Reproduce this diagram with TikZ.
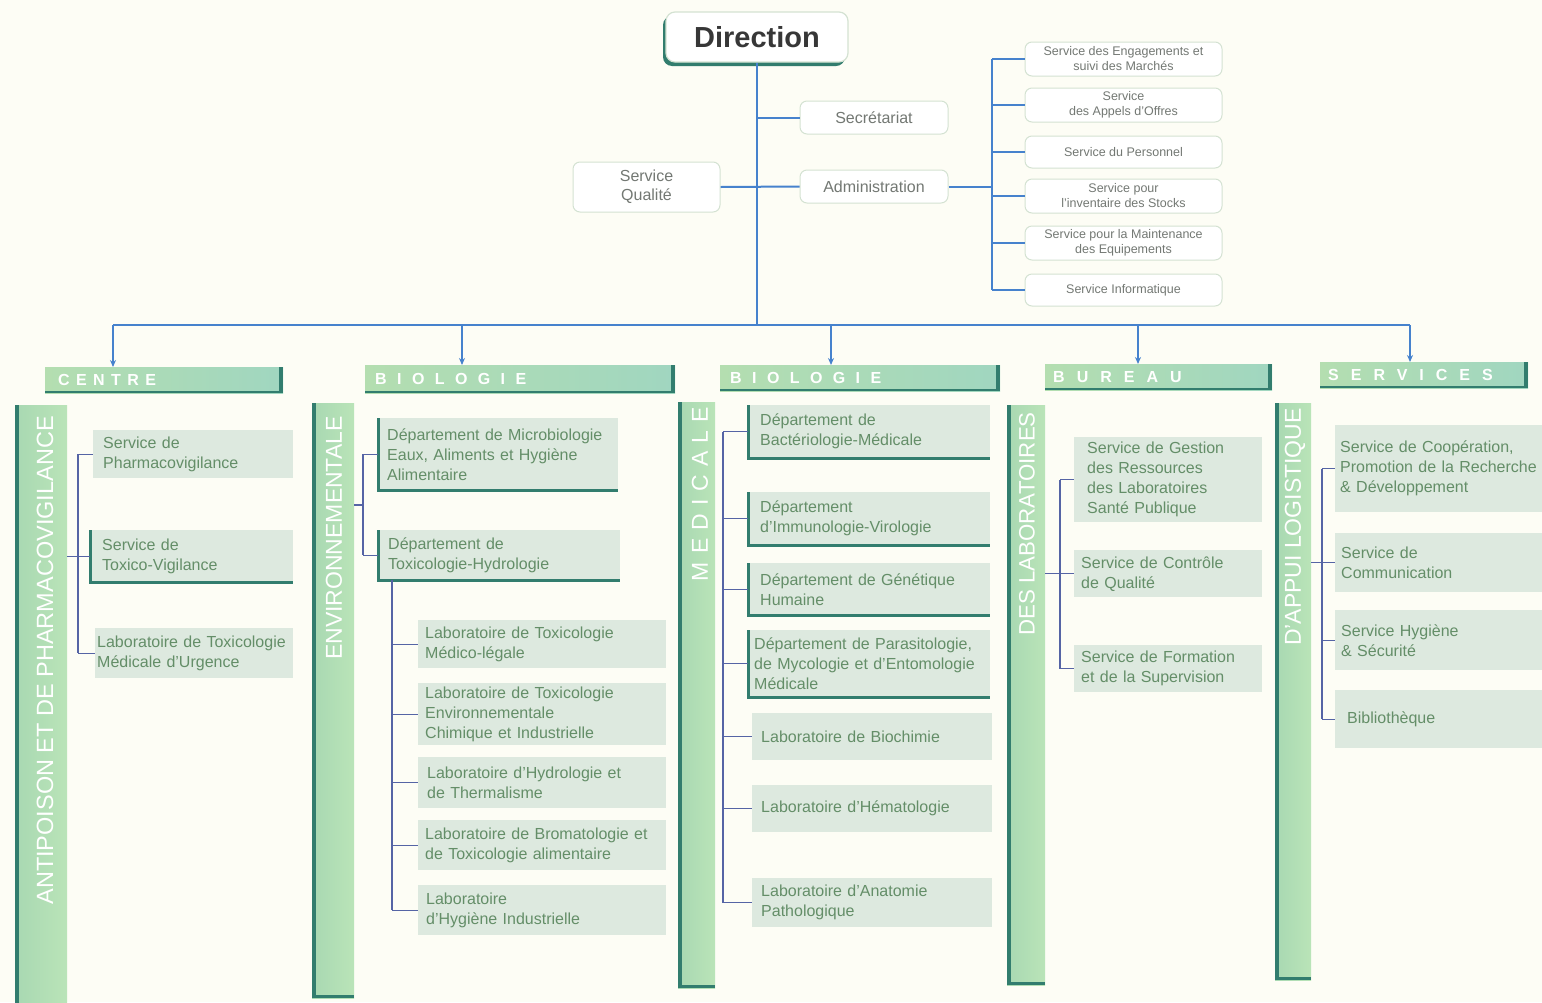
\documentclass[tikz,border=0pt]{standalone}
\usepackage{fontspec}
\setmainfont{Liberation Sans}
\usetikzlibrary{shadows,arrows.meta}
\definecolor{bgc}{RGB}{253,253,245}
\definecolor{dteal}{RGB}{50,125,110}
\definecolor{boxfill}{RGB}{221,233,223}
\definecolor{txtg}{RGB}{100,142,104}
\definecolor{graytxt}{RGB}{115,120,115}
\definecolor{dirtxt}{RGB}{55,55,55}
\definecolor{blueline}{RGB}{70,130,205}
\definecolor{brline}{RGB}{85,100,165}
\definecolor{barA}{RGB}{168,216,178}
\definecolor{barB}{RGB}{186,228,184}
\definecolor{hdrA}{RGB}{180,222,176}
\definecolor{hdrB}{RGB}{160,214,192}
\definecolor{wborder}{RGB}{212,226,210}
% style, name, x, y, w, h, xsep, text
\newcommand\mkbox[8]{\pgfmathsetmacro\tw{#5-2*#7}\node[#1,inner xsep=#7pt,minimum width=#5pt,minimum height=#6pt,text width=\tw pt] (#2) at (#3,#4) {#8};}
\newcommand\dedge[1]{\draw[dteal,line width=3pt] (#1.north west) -- (#1.south west) -- (#1.south east);}
\newcommand\hedge[1]{\draw[dteal,line width=2pt] ([yshift=1pt]#1.south west) -- ([yshift=1pt]#1.south east); \fill[dteal] ([xshift=-4pt]#1.north east) rectangle (#1.south east);}
\newcommand\vedge[1]{\fill[dteal] (#1.north west) rectangle ([xshift=4pt]#1.south west); \draw[dteal,line width=3pt] ([yshift=1.5pt]#1.south west) -- ([yshift=1.5pt]#1.south east);}
\begin{document}
\begin{tikzpicture}[x=1pt,y=-1pt,
  lbox/.style={anchor=north west,fill=boxfill,inner ysep=2pt,align=left,text=txtg,font=\fontsize{16}{20}\selectfont},
  wbox/.style={rounded corners=7pt,fill=white,draw=wborder,line width=1pt,text=graytxt,font=\fontsize{16}{19}\selectfont,align=center,inner sep=2pt},
  sbox/.style={wbox,font=\fontsize{12.5}{15}\selectfont,minimum width=197pt},
  dirbox/.style={rounded corners=9pt,fill=white,draw=wborder,line width=1.2pt,minimum width=182pt,minimum height=50pt,font=\fontsize{29}{30}\selectfont\bfseries,text=dirtxt,drop shadow={shadow xshift=-3pt,shadow yshift=-4pt,fill=dteal,opacity=1}},
  hdr/.style={anchor=north west,left color=hdrA,right color=hdrB,inner sep=0pt},
  hdrtxt/.style={anchor=west,text=white,font=\fontsize{16}{16}\selectfont\bfseries,inner sep=0pt},
  vbar/.style={anchor=north west,left color=barA,right color=barB,inner sep=0pt},
  vtxt/.style={rotate=90,anchor=east,text=white,font=\fontsize{23}{23}\selectfont,inner sep=0pt},
  mainline/.style={blueline,line width=2pt},
  brk/.style={brline,line width=1.3pt},
  arr/.style={mainline,-{Stealth[length=7pt,width=6pt]}}
]
\fill[bgc] (0,0) rectangle (1542,1002);
\useasboundingbox (0,0) rectangle (1542,1002);

% ---------- top part ----------
\node[dirbox] (dir) at (757,37) {Direction};
\node[wbox,minimum width=148pt,minimum height=33pt] (sec) at (874,117.5) {Secrétariat};
\node[wbox,minimum width=148pt,minimum height=33pt] (adm) at (874,186.5) {Administration};
\node[wbox,minimum width=147pt,minimum height=50pt] (qual) at (646.5,187) {Service\\Qualité};
\node[sbox,minimum height=34pt] (s1) at (1123.5,59) {Service des Engagements et\\suivi des Marchés};
\node[sbox,minimum height=34pt] (s2) at (1123.5,105) {Service\\des Appels d'Offres};
\node[sbox,minimum height=32pt] (s3) at (1123.5,152) {Service du Personnel};
\node[sbox,minimum height=34pt] (s4) at (1123.5,196) {Service pour\\l'inventaire des Stocks};
\node[sbox,minimum height=34pt] (s5) at (1123.5,243) {Service pour la Maintenance\\des Equipements};
\node[sbox,minimum height=32pt] (s6) at (1123.5,290) {Service Informatique};

\coordinate (bus) at (757,325);
\coordinate (ab) at (992,186.5);
\draw[mainline] (dir.south) -- (bus);
\draw[mainline] (bus |- sec.west) -- (sec.west);
\draw[mainline] (qual.east) -- (adm.west);
\draw[mainline] (adm.east) -- (ab);
\draw[mainline] (ab |- s1.west) -- (ab |- s6.west);
\foreach \s in {s1,s2,s3,s4,s5,s6} {\draw[mainline] (ab |- \s.west) -- (\s.west);}

% ---------- headers ----------
\node[hdr,minimum width=238pt,minimum height=26pt] (h1) at (45,367) {};
\node[hdr,minimum width=310pt,minimum height=28pt] (h2) at (365,365) {};
\node[hdr,minimum width=280pt,minimum height=26pt] (h3) at (720,365) {};
\node[hdr,minimum width=227pt,minimum height=26pt] (h4) at (1045,364) {};
\node[hdr,minimum width=208pt,minimum height=26pt] (h5) at (1320,362) {};
\hedge{h1}\hedge{h2}\hedge{h3}\hedge{h4}\hedge{h5}
\node[hdrtxt] (h1t) at ([xshift=13pt]h1.west) {\addfontfeature{LetterSpace=40}CENTRE};
\node[hdrtxt] (h2t) at ([xshift=10pt]h2.west) {\addfontfeature{LetterSpace=65}BIOLOGIE};
\node[hdrtxt] (h3t) at ([xshift=10pt]h3.west) {\addfontfeature{LetterSpace=65}BIOLOGIE};
\node[hdrtxt] (h4t) at ([xshift=8pt]h4.west) {\addfontfeature{LetterSpace=75}BUREAU};
\node[hdrtxt] (h5t) at ([xshift=8pt]h5.west) {\addfontfeature{LetterSpace=75}SERVICES};

\coordinate (b1) at (113,325);
\coordinate (b2) at (462,325);
\coordinate (b3) at (831,325);
\coordinate (b4) at (1138,325);
\coordinate (b5) at (1410,325);
\draw[mainline] (b1) -- (b5);
\draw[arr] (b1) -- (b1 |- h1.north);
\draw[arr] (b2) -- (b2 |- h2.north);
\draw[arr] (b3) -- (b3 |- h3.north);
\draw[arr] (b4) -- (b4 |- h4.north);
\draw[arr] (b5) -- (b5 |- h5.north);

% ---------- vertical bars ----------
\node[vbar,minimum width=52pt,minimum height=610pt] (v1) at (15,405) {};
\node[vbar,minimum width=42pt,minimum height=595pt] (v2) at (312,403) {};
\node[vbar,minimum width=37pt,minimum height=586pt] (v3) at (678,402) {};
\node[vbar,minimum width=38pt,minimum height=580pt] (v4) at (1007,405) {};
\node[vbar,minimum width=36pt,minimum height=577pt] (v5) at (1275,403) {};
\vedge{v1}\vedge{v2}\vedge{v3}\vedge{v4}\vedge{v5}
\node[vtxt,font=\fontsize{23.5}{23.5}\selectfont] (v1t) at (45,416) {ANTIPOISON ET DE PHARMACOVIGILANCE};
\node[vtxt] (v2t) at (334,416) {ENVIRONNEMENTALE};
\node[vtxt] (v3t) at (700,407) {\addfontfeature{LetterSpace=35}MEDICALE};
\node[vtxt,font=\fontsize{22.3}{22.3}\selectfont] (v4t) at (1027,412) {DES LABORATOIRES};
\node[vtxt] (v5t) at (1295,408) {D'APPUI LOGISTIQUE};

% ---------- column 1 ----------
\mkbox{lbox}{p1}{93}{430}{200}{48}{10}{Service de\\Pharmacovigilance}
\mkbox{lbox}{p2}{90}{530}{203}{52}{12}{Service de\\Toxico-Vigilance}
\mkbox{lbox}{p3}{95}{628}{198}{50}{2}{Laboratoire de Toxicologie\\Médicale d'Urgence}
\dedge{p2}
\coordinate (k1) at (78,0);
\draw[brk] (k1 |- p1.west) -- (k1 |- p3.west);
\draw[brk] (k1 |- p1.west) -- (p1.west);
\draw[brk] (k1 |- p3.west) -- (p3.west);
\draw[brk] (v1.east |- p2.west) -- (p2.west);

% ---------- column 2 ----------
\mkbox{lbox}{m1}{378}{418}{240}{72}{9}{Département de Microbiologie\\Eaux, Aliments et Hygiène\\Alimentaire}
\mkbox{lbox}{m2}{378}{530}{242}{50}{10}{Département de\\Toxicologie-Hydrologie}
\dedge{m1}\dedge{m2}
\mkbox{lbox}{l1}{418}{620}{248}{48}{7}{Laboratoire de Toxicologie\\Médico-légale}
\mkbox{lbox}{l2}{418}{683}{248}{62}{7}{Laboratoire de Toxicologie\\Environnementale\\Chimique et Industrielle}
\mkbox{lbox}{l3}{418}{757}{248}{51}{9}{Laboratoire d'Hydrologie et\\de Thermalisme}
\mkbox{lbox}{l4}{418}{820}{248}{50}{7}{Laboratoire de Bromatologie et\\de Toxicologie alimentaire}
\mkbox{lbox}{l5}{418}{885}{248}{50}{8}{Laboratoire\\d'Hygiène Industrielle}
\coordinate (k2a) at (363,505);
\draw[brk] (k2a |- m1.west) -- (k2a |- m2.west);
\draw[brk] (k2a |- m1.west) -- (m1.west);
\draw[brk] (k2a |- m2.west) -- (m2.west);
\draw[brk] (v2.east |- k2a) -- (k2a);
\coordinate (k2b) at (392,0);
\draw[brk] (k2b |- m2.south) -- (k2b |- l5.west);
\foreach \n in {l1,l2,l3,l4,l5} {\draw[brk] (k2b |- \n.west) -- (\n.west);}

% ---------- column 3 ----------
\mkbox{lbox}{d1}{748}{405}{242}{53}{12}{Département de\\Bactériologie-Médicale}
\mkbox{lbox}{d2}{748}{492}{242}{53}{12}{Département\\d'Immunologie-Virologie}
\mkbox{lbox}{d3}{748}{563}{242}{52}{12}{Département de Génétique\\Humaine}
\mkbox{lbox}{d4}{748}{630}{242}{67}{6}{Département de Parasitologie,\\de Mycologie et d'Entomologie\\Médicale}
\dedge{d1}\dedge{d2}\dedge{d3}\dedge{d4}
\mkbox{lbox}{e1}{752}{713}{240}{47}{9}{Laboratoire de Biochimie}
\mkbox{lbox}{e2}{752}{785}{240}{47}{9}{Laboratoire d'Hématologie}
\mkbox{lbox}{e3}{752}{878}{240}{49}{9}{Laboratoire d'Anatomie\\Pathologique}
\coordinate (k3) at (723,0);
\draw[brk] (k3 |- d1.west) -- (k3 |- e3.west);
\foreach \n in {d1,d2,d3,d4,e1,e2,e3} {\draw[brk] (k3 |- \n.west) -- (\n.west);}

% ---------- column 4 ----------
\mkbox{lbox}{g1}{1074}{437}{188}{85}{13}{Service de Gestion\\des Ressources\\des Laboratoires\\Santé Publique}
\mkbox{lbox}{g2}{1074}{550}{188}{47}{7}{Service de Contrôle\\de Qualité}
\mkbox{lbox}{g3}{1074}{645}{188}{47}{7}{Service de Formation\\et de la Supervision}
\coordinate (k4) at (1060,0);
\draw[brk] (k4 |- g1.west) -- (k4 |- g3.west);
\draw[brk] (k4 |- g1.west) -- (g1.west);
\draw[brk] (k4 |- g3.west) -- (g3.west);
\draw[brk] (v4.east |- g2.west) -- (g2.west);

% ---------- column 5 ----------
\mkbox{lbox}{r1}{1335}{425}{207}{87}{5}{Service de Coopération,\\Promotion de la Recherche\\\& Développement}
\mkbox{lbox}{r2}{1335}{533}{207}{59}{6}{Service de\\Communication}
\mkbox{lbox}{r3}{1335}{610}{207}{60}{6}{Service Hygiène\\\& Sécurité}
\mkbox{lbox}{r4}{1335}{690}{207}{58}{12}{Bibliothèque}
\coordinate (k5) at (1322,0);
\draw[brk] (k5 |- r1.west) -- (k5 |- r4.west);
\draw[brk] (k5 |- r1.west) -- (r1.west);
\draw[brk] (k5 |- r3.west) -- (r3.west);
\draw[brk] (k5 |- r4.west) -- (r4.west);
\draw[brk] (v5.east |- r2.west) -- (r2.west);
\end{tikzpicture}
\end{document}
